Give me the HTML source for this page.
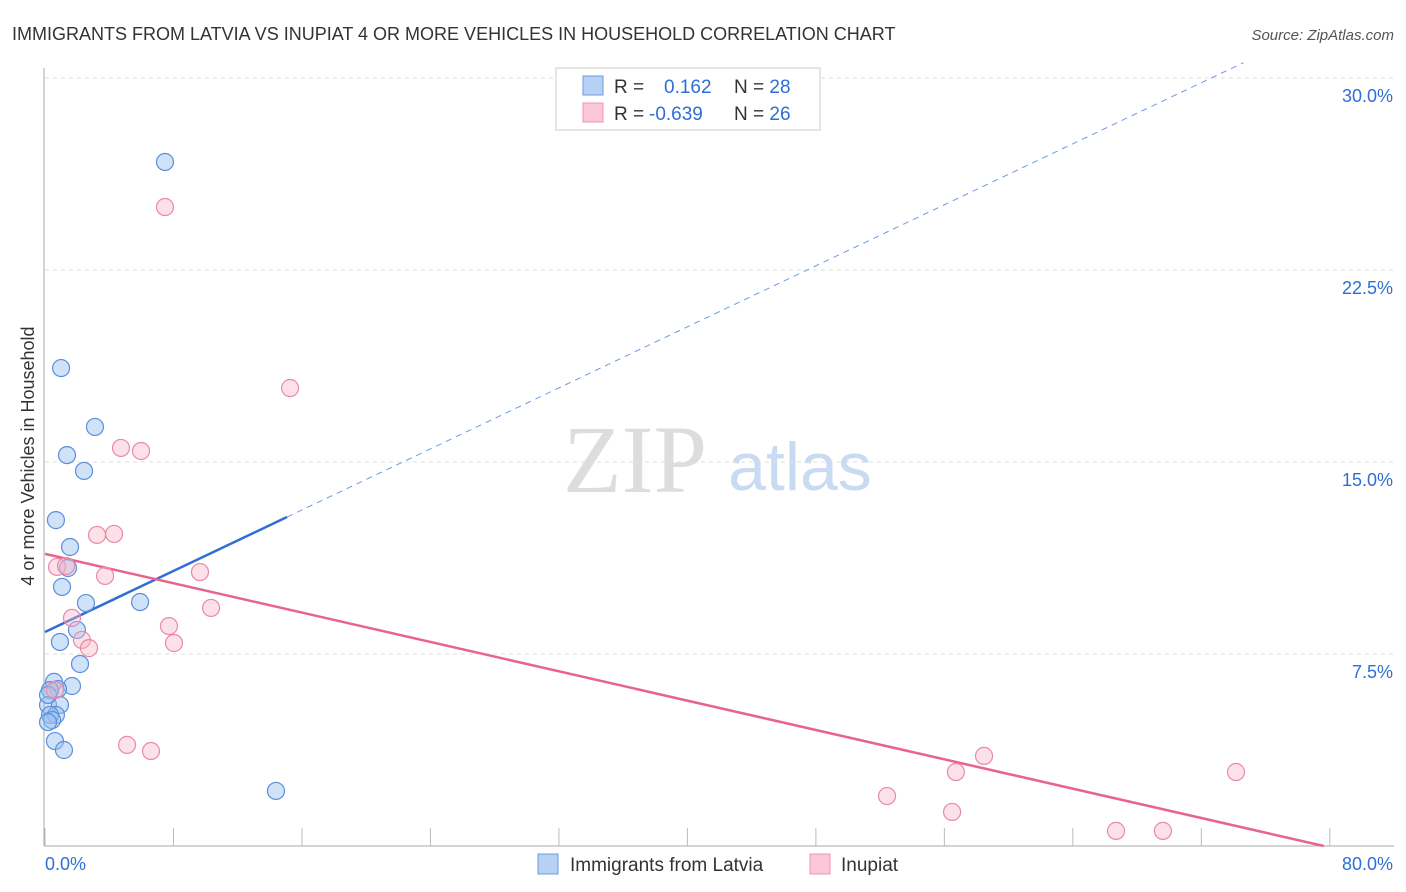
<!DOCTYPE html>
<html><head><meta charset="utf-8"><style>
body{margin:0;background:#fff;font-family:"Liberation Sans",sans-serif;}
svg{display:block}
</style></head><body>
<svg id="chart" width="1406" height="892">
<text x="12" y="40" font-size="18" fill="#333">IMMIGRANTS FROM LATVIA VS INUPIAT 4 OR MORE VEHICLES IN HOUSEHOLD CORRELATION CHART</text>
<text x="1394" y="40" font-size="15" fill="#555" font-style="italic" text-anchor="end">Source: ZipAtlas.com</text>
<text x="635" y="492" font-size="96" fill="#ddd" font-family="Liberation Serif,serif" text-anchor="middle">ZIP</text>
<text x="800" y="490" font-size="68" fill="#c9dbf3" text-anchor="middle">atlas</text>
<text transform="translate(34,456) rotate(-90)" font-size="18" fill="#333" text-anchor="middle">4 or more Vehicles in Household</text>
<g id="grid"></g><g id="axes"></g><g id="lines"></g><g id="pts"></g>
<g>
<rect x="556" y="68" width="264" height="62" fill="#fff" stroke="#ccc"/>
<rect x="583" y="76" width="20" height="19" fill="#b7d1f5" stroke="#6c9be0"/>
<rect x="583" y="103" width="20" height="19" fill="#fac8d6" stroke="#ec94ae"/>
<text x="614" y="93" font-size="19" fill="#333">R = <tspan fill="#2f6fd4" x="664">0.162</tspan><tspan fill="#333" x="734">N = </tspan><tspan fill="#2f6fd4">28</tspan></text>
<text x="614" y="120" font-size="19" fill="#333">R = <tspan fill="#2f6fd4" x="649">-0.639</tspan><tspan fill="#333" x="734">N = </tspan><tspan fill="#2f6fd4">26</tspan></text>
</g>
<g>
<rect x="538" y="854" width="20" height="20" fill="#b7d1f5" stroke="#6c9be0"/>
<text x="570" y="871" font-size="19" fill="#333">Immigrants from Latvia</text>
<rect x="810" y="854" width="20" height="20" fill="#fac8d6" stroke="#ec94ae"/>
<text x="841" y="871" font-size="19" fill="#333">Inupiat</text>
</g>
</svg>
<script>
const blueX=[7.47,1.0,3.11,1.37,2.43,0.68,1.56,1.43,1.06,2.55,5.92,1.99,0.93,2.18,0.56,1.68,0.81,0.31,0.19,0.93,0.68,0.31,0.44,0.19,0.62,1.18,14.38,0.19];
const blueY=[26.72,18.67,16.37,15.27,14.65,12.73,11.68,10.86,10.12,9.49,9.53,8.44,7.97,7.11,6.41,6.25,6.13,6.09,5.51,5.51,5.12,5.12,4.92,4.84,4.10,3.75,2.15,5.9];
const pinkX=[7.47,15.26,4.73,5.98,3.24,4.30,0.75,1.31,3.74,9.65,1.68,10.34,2.30,7.72,2.74,8.03,5.11,6.60,0.62,52.43,56.72,58.47,56.48,66.69,69.61,74.16];
const pinkY=[24.96,17.89,15.55,15.43,12.15,12.19,10.90,10.94,10.55,10.70,8.91,9.30,8.05,8.59,7.73,7.93,3.95,3.71,6.09,1.95,2.89,3.52,1.33,0.59,0.59,2.89];
const yTicks=[7.5,15,22.5,30];
const yTickLabels=["7.5%","15.0%","22.5%","30.0%"];
const xTicks=[0,8,16,24,32,40,48,56,64,72,80];
const blueFit=[8.36,0.298];
const pinkFit=[11.41,-0.1433];
const NS="http://www.w3.org/2000/svg";
const sx=v=>45+v*16.06, sy=v=>846-v*25.6;
function mk(t,a,p){const e=document.createElementNS(NS,t);for(const k in a)e.setAttribute(k,a[k]);document.getElementById(p).appendChild(e);return e;}
yTicks.forEach((t,i)=>{
 const l=mk('line',{x1:45,x2:1394,y1:sy(t),y2:sy(t),stroke:'#ddd','stroke-dasharray':'4,4'},'grid');
 
 
 const tx=mk('text',{x:1393,y:sy(t)+24,'font-size':18,fill:'#2f6fd4','text-anchor':'end'},'grid');tx.textContent=yTickLabels[i];
 
 
});
const ax=mk('line',{x1:44,x2:44,y1:68,y2:846,stroke:'#aaa'},'axes');


const bx=mk('line',{x1:44,x2:1394,y1:846,y2:846,stroke:'#aaa'},'axes');


xTicks.forEach(t=>{const l=mk('line',{x1:sx(t),x2:sx(t),y1:828,y2:846,stroke:'#bbb'},'axes');
 
 });
let t0=mk('text',{x:45,y:870,'font-size':18,fill:'#2f6fd4'},'axes');t0.textContent='0.0%';


let t1=mk('text',{x:1393,y:870,'font-size':18,fill:'#2f6fd4','text-anchor':'end'},'axes');t1.textContent='80.0%';


const bxe=15.07, bxd=(30.6-blueFit[0])/blueFit[1];
let l1=mk('line',{x1:sx(0),y1:sy(blueFit[0]),x2:sx(bxe),y2:sy(blueFit[0]+blueFit[1]*bxe),stroke:'#2f6fd4','stroke-width':2.5},'lines');


let l2=mk('line',{x1:sx(bxe),y1:sy(blueFit[0]+blueFit[1]*bxe),x2:sx(bxd),y2:sy(30.6),stroke:'#6c9be0','stroke-width':1,'stroke-dasharray':'6,5'},'lines');


const pxe=-pinkFit[0]/pinkFit[1];
let l3=mk('line',{x1:sx(0),y1:sy(pinkFit[0]),x2:sx(pxe),y2:sy(0),stroke:'#e8638e','stroke-width':2.5},'lines');


blueX.forEach((x,i)=>{const c=mk('circle',{cx:sx(x),cy:sy(blueY[i]),r:8.5,fill:'rgba(150,190,240,0.45)',stroke:'#5b8fdc','stroke-width':1.2},'pts');
 
 });
pinkX.forEach((x,i)=>{const c=mk('circle',{cx:sx(x),cy:sy(pinkY[i]),r:8.5,fill:'rgba(248,180,200,0.4)',stroke:'#e88aa8','stroke-width':1.2},'pts');
 
 });
</script>
</body></html>
